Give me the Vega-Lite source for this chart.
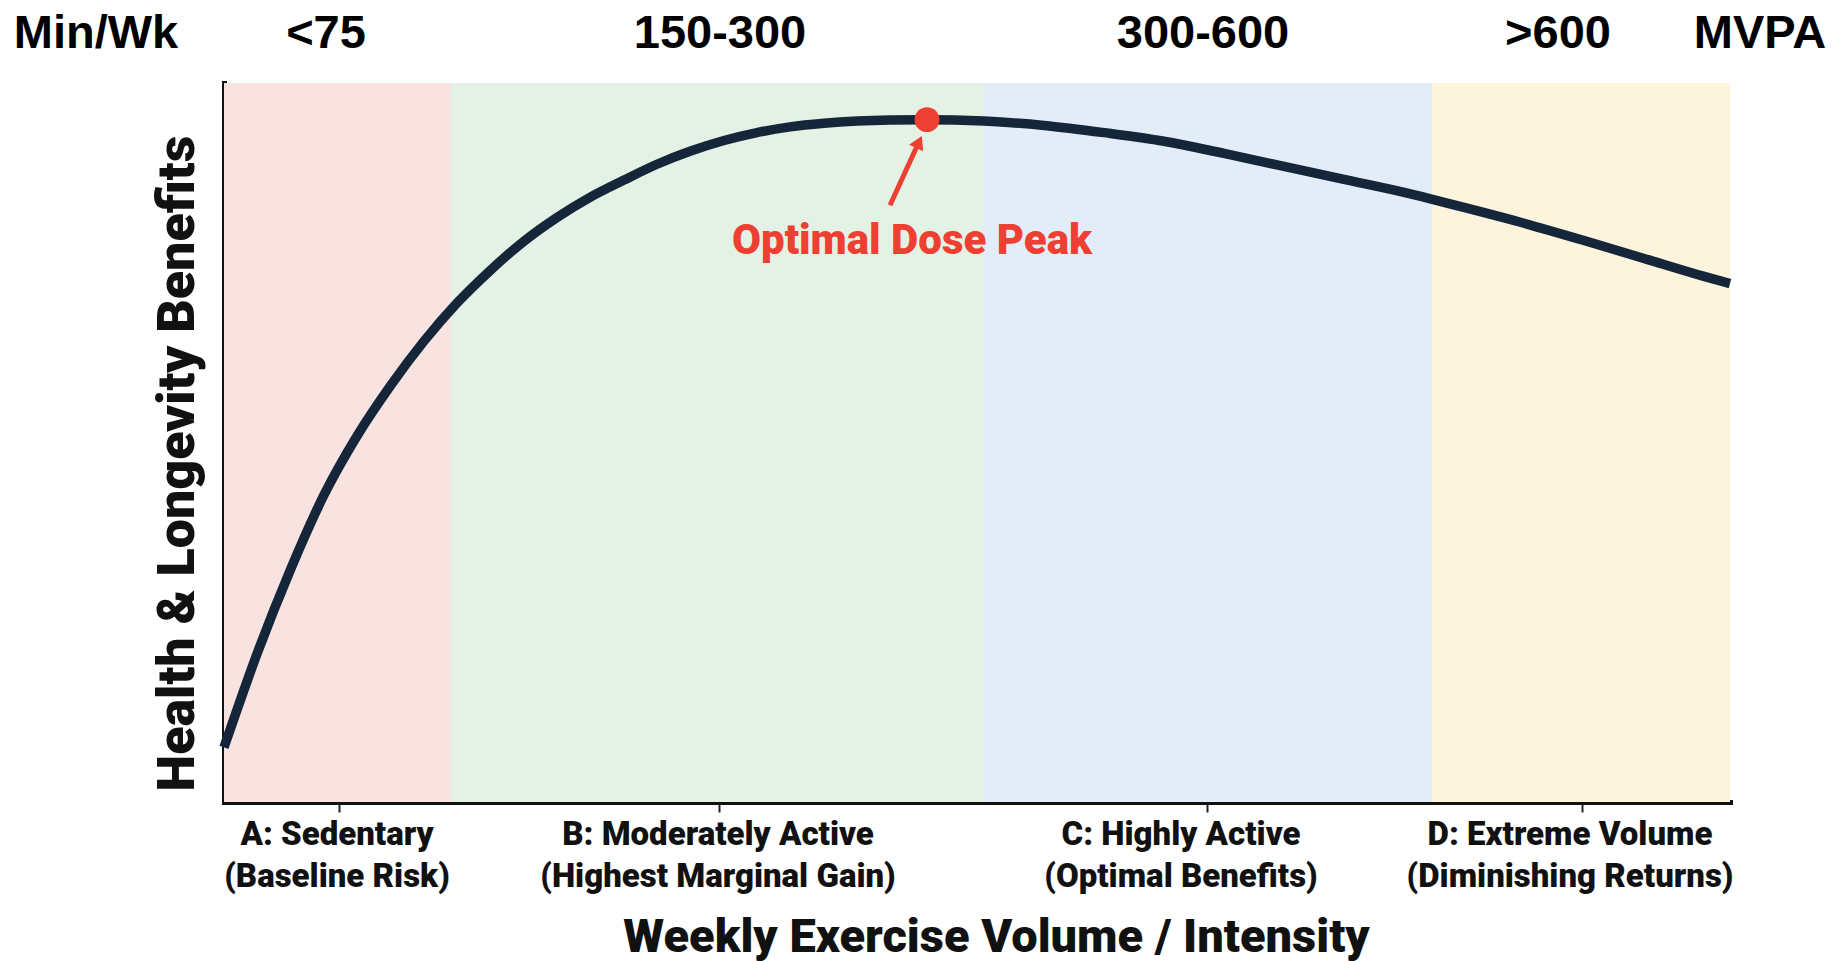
{
  "$schema": "https://vega.github.io/schema/vega-lite/v6.json",
  "width": 1506,
  "height": 719,
  "autosize": {"type": "none"},
  "padding": {"left": 224, "top": 83, "right": 103, "bottom": 159},
  "background": "#ffffff",
  "config": {"view": {"stroke": null}, "font": "Roboto"},
  "datasets": {
    "zones": [
      {"zone": "A", "start": 0, "end": 22.7},
      {"zone": "B", "start": 22.7, "end": 76.0},
      {"zone": "C", "start": 76.0, "end": 120.8},
      {"zone": "D", "start": 120.8, "end": 150.6}
    ],
    "curve": [
      {"volume": 0, "benefit": 7.6},
      {"volume": 3.3, "benefit": 20.6},
      {"volume": 6.7, "benefit": 32.5},
      {"volume": 10.0, "benefit": 42.7},
      {"volume": 13.3, "benefit": 50.9},
      {"volume": 16.7, "benefit": 58.0},
      {"volume": 20.0, "benefit": 64.1},
      {"volume": 23.3, "benefit": 69.4},
      {"volume": 26.6, "benefit": 73.9},
      {"volume": 30.0, "benefit": 78.0},
      {"volume": 33.3, "benefit": 81.3},
      {"volume": 36.6, "benefit": 84.1},
      {"volume": 40.0, "benefit": 86.5},
      {"volume": 43.3, "benefit": 88.7},
      {"volume": 46.6, "benefit": 90.5},
      {"volume": 50.0, "benefit": 92.0},
      {"volume": 53.3, "benefit": 93.1},
      {"volume": 56.6, "benefit": 93.9},
      {"volume": 60.0, "benefit": 94.4},
      {"volume": 63.3, "benefit": 94.7},
      {"volume": 66.6, "benefit": 94.85},
      {"volume": 70.3, "benefit": 94.9},
      {"volume": 76.0, "benefit": 94.7},
      {"volume": 82.0, "benefit": 94.1},
      {"volume": 88.0, "benefit": 93.1},
      {"volume": 94.0, "benefit": 91.9},
      {"volume": 100.0, "benefit": 90.2},
      {"volume": 106.0, "benefit": 88.4},
      {"volume": 112.0, "benefit": 86.6},
      {"volume": 118.0, "benefit": 84.8},
      {"volume": 124.0, "benefit": 82.7},
      {"volume": 130.0, "benefit": 80.5},
      {"volume": 136.0, "benefit": 78.1},
      {"volume": 142.0, "benefit": 75.6},
      {"volume": 148.0, "benefit": 73.1},
      {"volume": 150.6, "benefit": 72.1}
    ],
    "peak": [
      {"volume": 70.3, "benefit": 94.9, "label": "Optimal Dose Peak", "labelVolume": 68.8, "labelBenefit": 78.0}
    ],
    "arrow": [
      {"fromVolume": 66.6, "fromBenefit": 83.0, "toVolume": 69.3, "toBenefit": 91.2, "headVolume": 69.5, "headBenefit": 91.8}
    ],
    "minutes": [
      {"pos": -12.8, "text": "Min/Wk"},
      {"pos": 10.2, "text": "<75"},
      {"pos": 49.6, "text": "150-300"},
      {"pos": 97.9, "text": "300-600"},
      {"pos": 133.4, "text": ">600"},
      {"pos": 153.6, "text": "MVPA"}
    ],
    "zoneLabels": [
      {"pos": 11.3, "text": ["A: Sedentary", "(Baseline Risk)"]},
      {"pos": 49.4, "text": ["B: Moderately Active", "(Highest Marginal Gain)"]},
      {"pos": 95.7, "text": ["C: Highly Active", "(Optimal Benefits)"]},
      {"pos": 134.6, "text": ["D: Extreme Volume", "(Diminishing Returns)"]}
    ]
  },
  "layer": [
    {
      "data": {"name": "zones"},
      "mark": {"type": "rect"},
      "encoding": {
        "x": {
          "field": "start",
          "type": "quantitative",
          "scale": {"domain": [0, 150.6], "nice": false, "zero": false},
          "axis": {
            "title": "Weekly Exercise Volume / Intensity",
            "values": [11.5, 49.5, 98.3, 135.8],
            "labels": false,
            "grid": false,
            "ticks": true,
            "tickSize": 10,
            "tickWidth": 2,
            "tickColor": "#222222",
            "domainColor": "#111111",
            "domainWidth": 5,
            "domainCap": "square",
            "titleFont": "Roboto",
            "titleFontSize": 47,
            "titleFontWeight": 900,
            "titleColor": "#111111",
            "titlePadding": 101,
            "titleX": 772
          }
        },
        "x2": {"field": "end"},
        "color": {
          "field": "zone",
          "type": "nominal",
          "scale": {"domain": ["A", "B", "C", "D"], "range": ["#F9E3E1", "#E4F2E6", "#E2EDF8", "#FDF4DE"]},
          "legend": null
        }
      }
    },
    {
      "data": {"name": "curve"},
      "mark": {"type": "line", "color": "#16263A", "strokeWidth": 9.5, "interpolate": "monotone", "strokeCap": "butt"},
      "encoding": {
        "x": {"field": "volume", "type": "quantitative"},
        "y": {
          "field": "benefit",
          "type": "quantitative",
          "scale": {"domain": [0, 100], "nice": false, "zero": false},
          "axis": {
            "title": "Health & Longevity Benefits",
            "labels": false,
            "ticks": false,
            "grid": false,
            "domainColor": "#111111",
            "domainWidth": 5,
            "domainCap": "square",
            "titleFont": "Roboto",
            "titleFontSize": 52,
            "titleFontWeight": 900,
            "titleColor": "#111111",
            "titlePadding": 20,
            "titleY": 380
          }
        }
      }
    },
    {
      "data": {"name": "arrow"},
      "mark": {"type": "rule", "color": "#EE3F33", "strokeWidth": 5},
      "encoding": {
        "x": {"field": "fromVolume", "type": "quantitative"},
        "y": {"field": "fromBenefit", "type": "quantitative"},
        "x2": {"field": "toVolume"},
        "y2": {"field": "toBenefit"}
      }
    },
    {
      "data": {"name": "arrow"},
      "mark": {"type": "point", "shape": "triangle-up", "filled": true, "color": "#EE3F33", "opacity": 1, "size": 240, "angle": 25},
      "encoding": {
        "x": {"field": "headVolume", "type": "quantitative"},
        "y": {"field": "headBenefit", "type": "quantitative"}
      }
    },
    {
      "data": {"name": "peak"},
      "mark": {"type": "circle", "color": "#EE3F33", "opacity": 1, "size": 620},
      "encoding": {
        "x": {"field": "volume", "type": "quantitative"},
        "y": {"field": "benefit", "type": "quantitative"}
      }
    },
    {
      "data": {"name": "peak"},
      "mark": {"type": "text", "font": "Roboto", "fontWeight": 900, "fontSize": 42, "color": "#EE3F33", "align": "center", "baseline": "middle"},
      "encoding": {
        "x": {"field": "labelVolume", "type": "quantitative"},
        "y": {"field": "labelBenefit", "type": "quantitative"},
        "text": {"field": "label"}
      }
    },
    {
      "data": {"name": "minutes"},
      "mark": {"type": "text", "font": "Liberation Sans", "fontWeight": "bold", "fontSize": 47, "color": "#000000", "align": "center", "baseline": "middle"},
      "encoding": {
        "x": {"field": "pos", "type": "quantitative"},
        "y": {"datum": 106.8},
        "text": {"field": "text"}
      }
    },
    {
      "data": {"name": "zoneLabels"},
      "mark": {"type": "text", "font": "Roboto", "fontWeight": 900, "fontSize": 33, "color": "#111111", "align": "center", "baseline": "alphabetic", "lineHeight": 42},
      "encoding": {
        "x": {"field": "pos", "type": "quantitative"},
        "y": {"datum": -6},
        "text": {"field": "text"}
      }
    }
  ]
}
